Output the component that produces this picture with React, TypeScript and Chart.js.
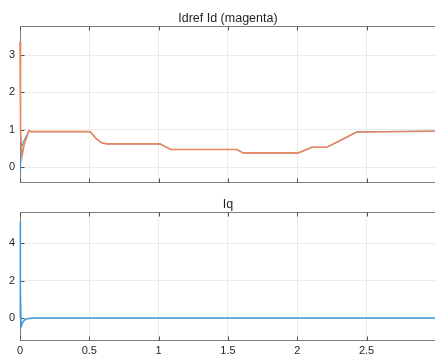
import React, { useEffect, useRef } from "react";
import { Chart, registerables } from "chart.js";

Chart.register(...registerables);

// ---- data ----
const tId = [0, 0.004, 0.014, 0.03, 0.065, 0.08, 0.505, 0.553, 0.59, 0.625, 1.01, 1.087, 1.564, 1.61, 2.01, 2.105, 2.213, 2.31, 2.43, 2.994];
const idVals = [3.36, 1.0, 0.28, 0.6, 0.98, 0.95, 0.95, 0.75, 0.65, 0.62, 0.62, 0.47, 0.47, 0.38, 0.38, 0.53, 0.53, 0.71, 0.94, 0.96];
const tIdref = [0, 0.004, 0.01, 0.03, 0.05, 0.065, 0.08, 0.505, 0.553, 0.59, 0.625, 1.01, 1.087, 1.564, 1.61, 2.01, 2.105, 2.213, 2.31, 2.43, 2.994];
const idrefVals = [-0.1, 0.3, 0.52, 0.72, 0.86, 0.97, 0.95, 0.95, 0.75, 0.65, 0.62, 0.62, 0.47, 0.47, 0.38, 0.38, 0.53, 0.53, 0.71, 0.94, 0.96];
const tIq = [0, 0.001, 0.004, 0.008, 0.015, 0.03, 0.05, 0.1, 0.5, 1, 1.5, 2, 2.5, 2.994];
const iqVals = [0, 5.15, 1.5, -0.46, -0.3, -0.12, -0.04, 0.0, 0.01, 0.0, 0.0, 0.01, 0.0, 0.0];

const xTicks = [0, 0.5, 1, 1.5, 2, 2.5];
const yTicksTop = [0, 1, 2, 3];
const yTicksBottom = [0, 2, 4];
const topTitle = "Idref Id (magenta)";
const bottomTitle = "Iq";

const X_MIN = 0;
const X_MAX = 2.994;
const FONT = '"Liberation Sans", Arial, Helvetica, sans-serif';

function pts(t: number[], v: number[]) {
  return t.map((x, i) => ({ x, y: v[i] }));
}

function boxPlugin(title: string, yTicks: number[]) {
  return {
    id: "box",
    beforeDatasetsDraw(chart: any) {
      const { ctx, chartArea } = chart;
      const { left, right, top, bottom } = chartArea;
      const xs = chart.scales.x;
      const ys = chart.scales.y;
      ctx.save();
      ctx.strokeStyle = "#7d7d7d";
      ctx.lineWidth = 1;
      const L = Math.round(left) + 0.5;
      const T = Math.round(top) + 0.5;
      const B = Math.round(bottom) - 0.5;
      const R = Math.round(right) + 0.5;
      ctx.beginPath();
      ctx.moveTo(R, T);
      ctx.lineTo(L, T);
      ctx.lineTo(L, B);
      ctx.lineTo(R, B);
      ctx.stroke();
      ctx.strokeStyle = "#4d4d4d";
      ctx.beginPath();
      for (const v of xTicks) {
        const p = Math.round(xs.getPixelForValue(v)) + 0.5;
        ctx.moveTo(p, B);
        ctx.lineTo(p, B - 4);
        ctx.moveTo(p, T);
        ctx.lineTo(p, T + 4);
      }
      for (const v of yTicks) {
        const p = Math.round(ys.getPixelForValue(v)) + 0.5;
        ctx.moveTo(L, p);
        ctx.lineTo(L + 4, p);
      }
      ctx.stroke();
      ctx.restore();
    },
    afterDraw(chart: any) {
      const { ctx, chartArea } = chart;
      const { left, top } = chartArea;
      const xs = chart.scales.x;
      ctx.save();
      ctx.fillStyle = "#1f1f1f";
      ctx.font = `12.5px ${FONT}`;
      ctx.textAlign = "center";
      ctx.textBaseline = "alphabetic";
      const cx = (left + xs.getPixelForValue(3)) / 2;
      ctx.fillText(title, cx, top - 4);
      ctx.restore();
    },
  };
}

function makeOptions(yMin: number, yMax: number, yTicks: number[], showX: boolean, padTop: number, xHeight: number) {
  return {
    responsive: false,
    animation: false as const,
    devicePixelRatio: 1,
    layout: { padding: { top: padTop, right: 0, bottom: 0, left: 0 } },
    plugins: { legend: { display: false }, tooltip: { enabled: false }, title: { display: false } },
    elements: { point: { radius: 0 }, line: { tension: 0 } },
    scales: {
      x: {
        type: "linear" as const,
        min: X_MIN,
        max: X_MAX,
        afterBuildTicks: (s: any) => {
          s.ticks = xTicks.map((v) => ({ value: v }));
        },
        afterFit: (s: any) => {
          s.height = xHeight;
        },
        grid: { color: "#ebebeb", drawTicks: false, lineWidth: 1 },
        border: { display: false },
        ticks: {
          display: showX,
          padding: 4,
          color: "#262626",
          font: { family: FONT, size: 11 },
          maxRotation: 0,
          autoSkip: false,
          callback: (v: any) => String(v),
        },
      },
      y: {
        type: "linear" as const,
        min: yMin,
        max: yMax,
        afterBuildTicks: (s: any) => {
          s.ticks = yTicks.map((v) => ({ value: v }));
        },
        afterFit: (s: any) => {
          s.width = 20;
        },
        grid: { color: "#ebebeb", drawTicks: false, lineWidth: 1 },
        border: { display: false },
        ticks: {
          padding: 5,
          color: "#262626",
          font: { family: FONT, size: 11 },
          autoSkip: false,
          callback: (v: any) => String(v),
        },
      },
    },
  };
}

export default function App() {
  const topRef = useRef<HTMLCanvasElement>(null);
  const botRef = useRef<HTMLCanvasElement>(null);

  useEffect(() => {
    document.body.style.margin = "0";
    const c1 = new Chart(topRef.current!, {
      type: "line",
      data: {
        datasets: [
          { data: pts(tIdref, idrefVals), borderColor: "#3a96d8", borderWidth: 1.2, fill: false, order: 2, clip: 2 },
          { data: pts(tId, idVals), borderColor: "#ea875f", borderWidth: 1.6, fill: false, order: 1, clip: 2 },
        ],
      },
      options: makeOptions(-0.42, 3.78, yTicksTop, false, 26, 12.3) as any,
      plugins: [boxPlugin(topTitle, yTicksTop)],
    });
    const c2 = new Chart(botRef.current!, {
      type: "line",
      data: {
        datasets: [{ data: pts(tIq, iqVals), borderColor: "#3a96d8", borderWidth: 1.5, fill: false, clip: 2 }],
      },
      options: makeOptions(-1.21, 5.69, yTicksBottom, true, 16.7, 15.3) as any,
      plugins: [boxPlugin(bottomTitle, yTicksBottom)],
    });
    return () => {
      c1.destroy();
      c2.destroy();
    };
  }, []);

  return (
    <div style={{ position: "absolute", left: 0, top: 0, width: 435, height: 356, background: "#fff", overflow: "hidden" }}>
      <canvas ref={topRef} width={435} height={195} style={{ position: "absolute", left: 0, top: 0, width: 435, height: 195 }} />
      <canvas ref={botRef} width={435} height={161} style={{ position: "absolute", left: 0, top: 195, width: 435, height: 161 }} />
    </div>
  );
}
